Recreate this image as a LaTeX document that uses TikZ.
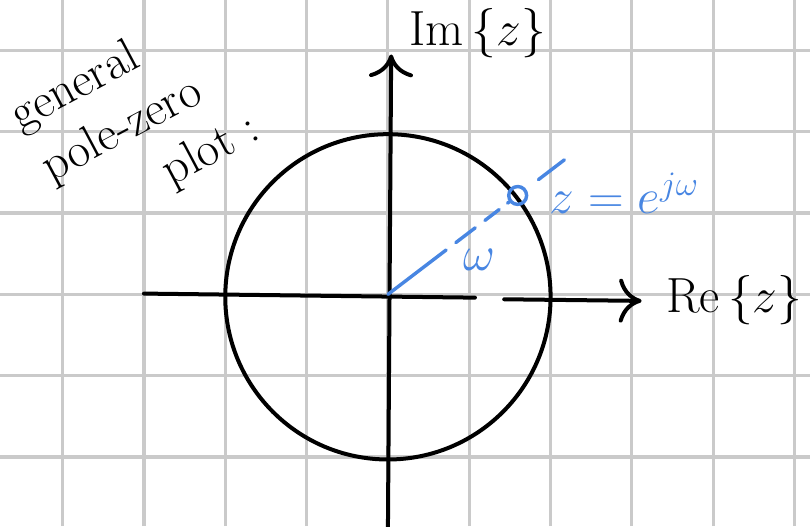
\documentclass[tikz,border=0pt]{standalone}
\usepackage{amsmath}
\usepackage{tikz}
\usetikzlibrary{arrows.meta,positioning,calc}
\definecolor{gridgray}{RGB}{202,202,202}
\definecolor{inkblue}{RGB}{72,134,226}

\begin{document}
\begin{tikzpicture}[
  x=1cm, y=1cm,
  gridline/.style={draw=gridgray, line width=1.1pt},
  ink/.style={draw=black, line width=1.4pt, line cap=round},
  axis/.style={ink, -{Computer Modern Rightarrow[length=2.8mm, width=5.4mm]}},
  blueink/.style={draw=inkblue, line width=1.2pt, line cap=round},
  label/.style={inner sep=1pt, font=\fontsize{18}{18}\selectfont},
  bluelabel/.style={label, text=inkblue}
]
  \useasboundingbox (-4.77,-2.85) rectangle (5.19,3.62);

  % Squared paper background
  \foreach \gx in {-4,...,5} \draw[gridline] (\gx,-2.85) -- (\gx,3.62);
  \foreach \gy in {-2,...,3} \draw[gridline] (-4.77,\gy) -- (5.19,\gy);

  % Axes of the z-plane
  \coordinate (O) at (0,0);
  \coordinate (xL) at (-3.0,0.01);
  \coordinate (gapL) at (1.07,-0.04);
  \coordinate (gapR) at (1.43,-0.06);
  \coordinate (xR) at (3.12,-0.08);
  \coordinate (yB) at (0,-2.9);
  \coordinate (yT) at (0.04,2.95);
  \draw[ink] (xL) -- (gapL);
  \draw[axis] (gapR) -- (xR);
  \draw[axis] (yB) -- (yT);

  % Unit circle
  \node[circle, draw=black, line width=1.4pt, minimum size=4cm, inner sep=0pt] (ucirc) at (0,-0.03) {};

  % Point on the unit circle and its angle
  \node[circle, draw=inkblue, line width=1.2pt, minimum size=2.2mm, inner sep=0pt] (zpt) at (ucirc.38) {};
  \coordinate (rayA) at ($(O)!1.16!(zpt)$);
  \coordinate (rayB) at ($(O)!1.36!(zpt)$);
  \draw[blueink, dash pattern=on 9mm off 1.5mm on 3mm off 1.5mm on 2.2mm off 1.3mm on 2mm off 1.3mm] (O) -- (zpt);
  \draw[blueink] (rayA) -- (rayB);

  % Labels
  \node[label, anchor=west] (imlab) at (0.22,3.21) {$\mathrm{Im}\,\{z\}$};
  \node[label, anchor=west] (relab) at (3.38,-0.07) {$\mathrm{Re}\,\{z\}$};
  \node[bluelabel] (omlab) at (1.13,0.42) {$\omega$};
  \node[bluelabel, anchor=base west] (zlab) at (1.95,1.0) {$z=e^{j\omega}$};
  \node[label, rotate=28, align=left, font=\fontsize{17}{21}\selectfont] (title) at (-3.1,2.1) {general\\ \hspace*{1pt}pole-zero\\ \hspace*{2.2em}plot :};

\end{tikzpicture}
\end{document}
